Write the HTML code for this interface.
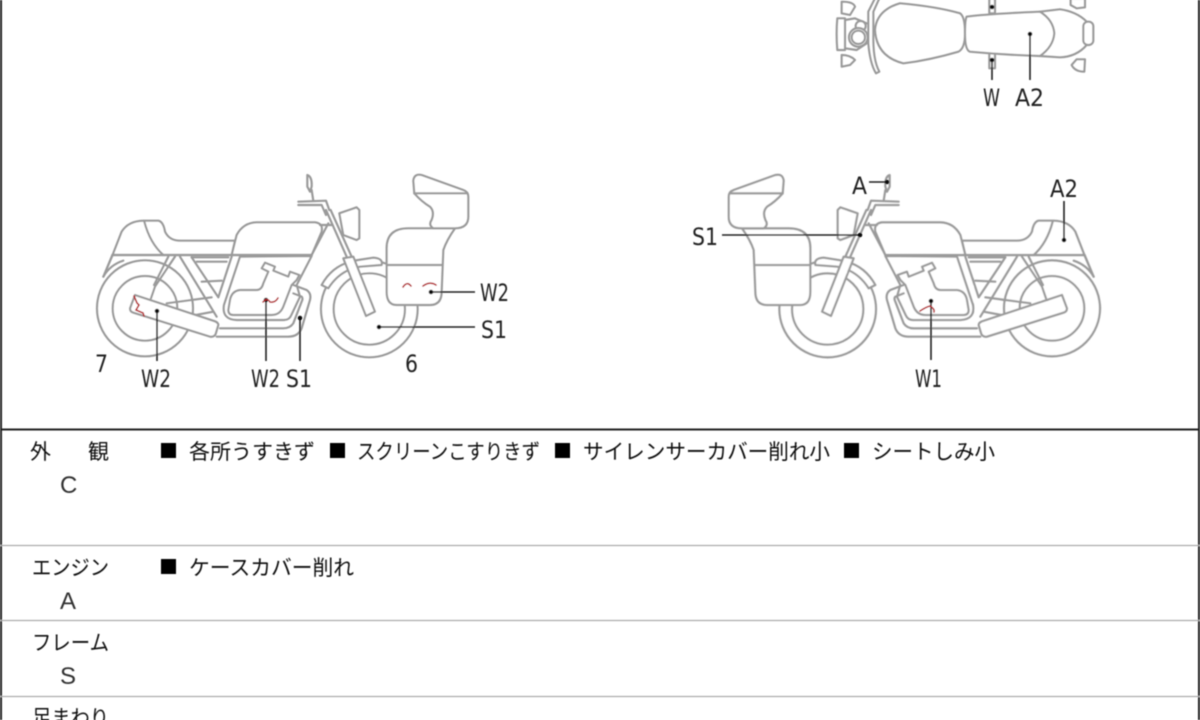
<!DOCTYPE html>
<html lang="ja"><head><meta charset="utf-8"><title>車両状態図</title>
<style>html,body{margin:0;padding:0;background:#fff}svg{display:block}
text{font-family:"Liberation Sans","Noto Sans CJK JP",sans-serif;fill:#111}
.j{font-size:21px}.l{font-family:"DejaVu Sans",sans-serif;font-size:24px;fill:#222}
.c{font-size:24px;fill:#333}
.d{fill:none;stroke:#9a9a9a;stroke-width:6.5;stroke-linejoin:round;stroke-linecap:round}
.f{fill:#fff;stroke:#9a9a9a;stroke-width:6.5;stroke-linejoin:round;stroke-linecap:round}
.a{fill:none;stroke:#222;stroke-width:1.6}
.r{fill:none;stroke:#b5282c;stroke-width:1.6;stroke-linecap:round}
</style></head><body>
<svg xmlns="http://www.w3.org/2000/svg" width="1200" height="720" viewBox="0 0 1200 720">
<defs>
<g id="bike">
<circle class="f" cx="195" cy="445" r="144"/><circle class="f" cx="195" cy="445" r="97"/>
<circle class="f" cx="868" cy="447" r="145"/><circle class="f" cx="868" cy="447" r="107"/>
<path class="f" d="M70,350 L97,287 L125,215 Q145,183 190,182 L235,182 Q250,185 255,215 Q268,242 300,242 L465,242 L455,285 L97,285Z"/>
<path class="d" d="M193,185 Q210,250 250,285 M70,350 Q90,315 130,302 M335,292 L445,292 M350,305 L440,305 M365,365 L425,362"/>
<path class="f" d="M455,285 L470,225 Q490,188 530,187 L705,187 Q730,190 725,215 L695,285Z"/>
<path class="d" d="M97,285 L695,285 M335,292 L415,412 L455,290 M300,290 L410,470 M285,290 L225,380 L213,415 M265,290 L222,375 M260,430 L395,412 M320,470 L400,455"/>
<path class="f" d="M480,290 L432,435 Q425,478 470,480 L612,480 Q628,480 634,465 L660,410 L650,375 L695,288Z"/>
<path class="f" d="M445,450 L450,420 Q455,393 480,390 L530,390 Q545,390 550,370 L565,335 L545,325 L555,308 L585,320 L580,332 L625,350 L630,335 L658,345 L650,360 L635,375 L610,440 Q600,465 575,465 L460,465 Q445,465 445,450Z"/>
<path class="d" d="M640,375 L680,390 Q695,400 690,420 L665,505 Q655,530 625,530 L410,530 M640,400 L665,410 Q670,415 665,425 L640,490 Q630,505 610,505 L420,505"/>
<path class="f" d="M165,405 L150,445 Q150,455 160,458 L390,530 Q402,532 407,522 L415,495 Q415,488 405,484Z"/>
<path class="d" d="M695,285 L745,190 M720,195 L755,195 M655,125 L738,122 L748,150 M655,135 L725,135 L738,165 M738,150 L800,290 M752,150 L815,290 M682,45 Q697,50 695,80 L690,95 L682,80Z M695,90 L700,122"/>
<path class="f" d="M778,160 L830,142 L838,150 L838,235 L830,240 L790,225 Z"/>
<path class="f" d="M725,375 Q760,310 835,300 L880,293 Q910,295 905,315 L840,320 Q780,330 745,385 Z"/>
<path class="f" d="M790,295 L820,290 L885,455 L858,468 Z"/>
<path class="f" d="M920,395 L920,265 Q920,205 985,205 L1125,205 Q1100,240 1090,270 L1085,395 Q1085,435 1050,435 L950,435 Q920,435 920,395Z"/>
<path class="d" d="M920,315 L1085,315"/>
<path class="f" d="M1000,62 Q1003,40 1025,45 L1150,90 Q1165,95 1165,110 L1165,170 Q1165,205 1125,205 L1060,205 Q1045,195 1055,180 Q1065,155 1050,140 Q1025,125 1003,100Z"/>
<path class="d" d="M1003,100 L1162,100"/>
</g>
<filter id="b" x="0" y="0" width="100%" height="100%"><feGaussianBlur stdDeviation="0.4"/></filter>
</defs>
<rect width="1200" height="720" fill="#fff"/>
<g filter="url(#b)">
<g transform="translate(80,160) scale(.3333)"><use href="#bike"/></g>
<g transform="translate(1117,160) scale(-.3333,.3333)"><use href="#bike"/></g>

<g transform="translate(820,0) scale(.3333)">
<path class="f" d="M65,5 Q100,5 105,20 L90,45 L65,40Z M65,165 Q90,165 105,180 L90,195 L65,200Z"/>
<path class="f" d="M52,55 L75,55 L75,150 L52,150Q48,100 52,55Z"/>
<path class="d" d="M75,60 L105,55 L140,70 M75,145 L110,150 L140,130"/>
<circle class="f" cx="122" cy="78" r="15"/><circle class="f" cx="115" cy="112" r="28"/><circle class="f" cx="115" cy="112" r="20"/>
<path class="f" d="M165,-5 L145,35 L145,130 Q150,190 168,220 L178,215 Q158,180 160,100 L160,35 L178,-5Z"/>
<path class="f" d="M752,-5 L752,15 L770,25 L795,22 L795,-5Z M755,195 L770,178 L795,178 L793,215 Q765,215 755,195Z"/>
<path class="f" d="M508,-5 L525,-5 L525,40 L508,40Z M508,160 L525,160 L525,205 L508,205Z"/>
<path class="f" d="M660,35 L720,28 Q770,35 800,65 L800,135 Q770,170 720,172 L660,168Z"/>
<rect class="f" x="790" y="65" width="30" height="70" rx="14"/>
<path class="f" d="M165,90 Q170,30 240,10 Q350,20 420,40 Q435,50 435,100 Q435,145 415,155 Q330,180 250,190 Q170,170 165,90Z"/>
<path class="f" d="M440,50 Q500,42 660,35 Q700,60 703,100 Q700,140 660,168 Q560,165 450,155 Q435,150 435,100 Q435,60 440,50Z"/>
</g>

<path class="a" d="M992,60V80 M1030,34V80"/><circle cx="992" cy="7" r="2.3" fill="#111"/><circle cx="992" cy="60" r="2.3" fill="#111"/><circle cx="1030" cy="34" r="2.3" fill="#111"/>
<path class="a" d="M157,311V361 M266,300V361 M300,318V361 M431,292H475 M379,327H475"/>
<circle cx="157" cy="311" r="2.3" fill="#111"/><circle cx="266" cy="300" r="2.3" fill="#111"/><circle cx="300" cy="318" r="2.3" fill="#111"/><circle cx="431" cy="292" r="2.3" fill="#111"/><circle cx="379" cy="327" r="2.3" fill="#111"/>
<path class="a" d="M869,182H887 M722,235H860 M1064,201V240 M931,301V360"/>
<circle cx="887" cy="182" r="2.3" fill="#111"/><circle cx="860" cy="235" r="2.3" fill="#111"/><circle cx="1064" cy="240" r="2.3" fill="#111"/><circle cx="931" cy="301" r="2.3" fill="#111"/>
<path class="r" d="M134,296 L137,303 L139,305 L136,310 L143,313 L144,316"/>
<path class="r" d="M263,302 Q267,297 270,302 Q275,303 278,298"/>
<path class="r" d="M403,287 Q407,281 411,286 M423,286 Q430,281 436,285"/>
<path class="r" d="M920,311 Q926,307 930,306 Q935,309 934,312"/>

<text class="l" x="983" y="106" textLength="17" lengthAdjust="spacingAndGlyphs">W</text>
<text class="l" x="1015" y="106" textLength="29" lengthAdjust="spacingAndGlyphs">A2</text>
<text class="l" x="95" y="372" textLength="13" lengthAdjust="spacingAndGlyphs">7</text>
<text class="l" x="141" y="387" textLength="30" lengthAdjust="spacingAndGlyphs">W2</text>
<text class="l" x="251" y="387" textLength="29" lengthAdjust="spacingAndGlyphs">W2</text>
<text class="l" x="286" y="387" textLength="26" lengthAdjust="spacingAndGlyphs">S1</text>
<text class="l" x="405" y="372" textLength="13" lengthAdjust="spacingAndGlyphs">6</text>
<text class="l" x="480" y="301" textLength="29" lengthAdjust="spacingAndGlyphs">W2</text>
<text class="l" x="481" y="338" textLength="26" lengthAdjust="spacingAndGlyphs">S1</text>
<text class="l" x="852" y="194" textLength="15" lengthAdjust="spacingAndGlyphs">A</text>
<text class="l" x="1050" y="197" textLength="28" lengthAdjust="spacingAndGlyphs">A2</text>
<text class="l" x="692" y="245" textLength="26" lengthAdjust="spacingAndGlyphs">S1</text>
<text class="l" x="915" y="387" textLength="27" lengthAdjust="spacingAndGlyphs">W1</text>

<path d="M1,0V720 M1199,0V720" stroke="#222" stroke-width="2" fill="none"/>
<path d="M0,429.5H1200" stroke="#222" stroke-width="2"/>
<path d="M0,545.5H1200 M0,620.5H1200 M0,696.5H1200" stroke="#aaa" stroke-width="1.2"/>

<text class="j" x="30" y="459">外</text><text class="j" x="88" y="459" textLength="24">観</text>
<rect x="161" y="443" width="15" height="15" fill="#000"/>
<text class="j" x="189" y="459" textLength="126" lengthAdjust="spacingAndGlyphs">各所うすきず</text>
<rect x="330" y="443" width="15" height="15" fill="#000"/>
<text class="j" x="357" y="459" textLength="183" lengthAdjust="spacingAndGlyphs">スクリーンこすりきず</text>
<rect x="555" y="443" width="15" height="15" fill="#000"/>
<text class="j" x="583" y="459" textLength="247" lengthAdjust="spacingAndGlyphs">サイレンサーカバー削れ小</text>
<rect x="844" y="443" width="15" height="15" fill="#000"/>
<text class="j" x="872" y="459" textLength="123" lengthAdjust="spacingAndGlyphs">シートしみ小</text>
<text class="c" x="60" y="493">C</text>

<text class="j" x="32" y="575" textLength="77" lengthAdjust="spacingAndGlyphs">エンジン</text>
<rect x="161" y="559" width="15" height="15" fill="#000"/>
<text class="j" x="189" y="575" textLength="165" lengthAdjust="spacingAndGlyphs">ケースカバー削れ</text>
<text class="c" x="60" y="609">A</text>

<text class="j" x="32" y="650" textLength="77" lengthAdjust="spacingAndGlyphs">フレーム</text>
<text class="c" x="60" y="684">S</text>

<text class="j" x="32" y="725" textLength="77" lengthAdjust="spacingAndGlyphs">足まわり</text>
</g>
</svg>
</body></html>
